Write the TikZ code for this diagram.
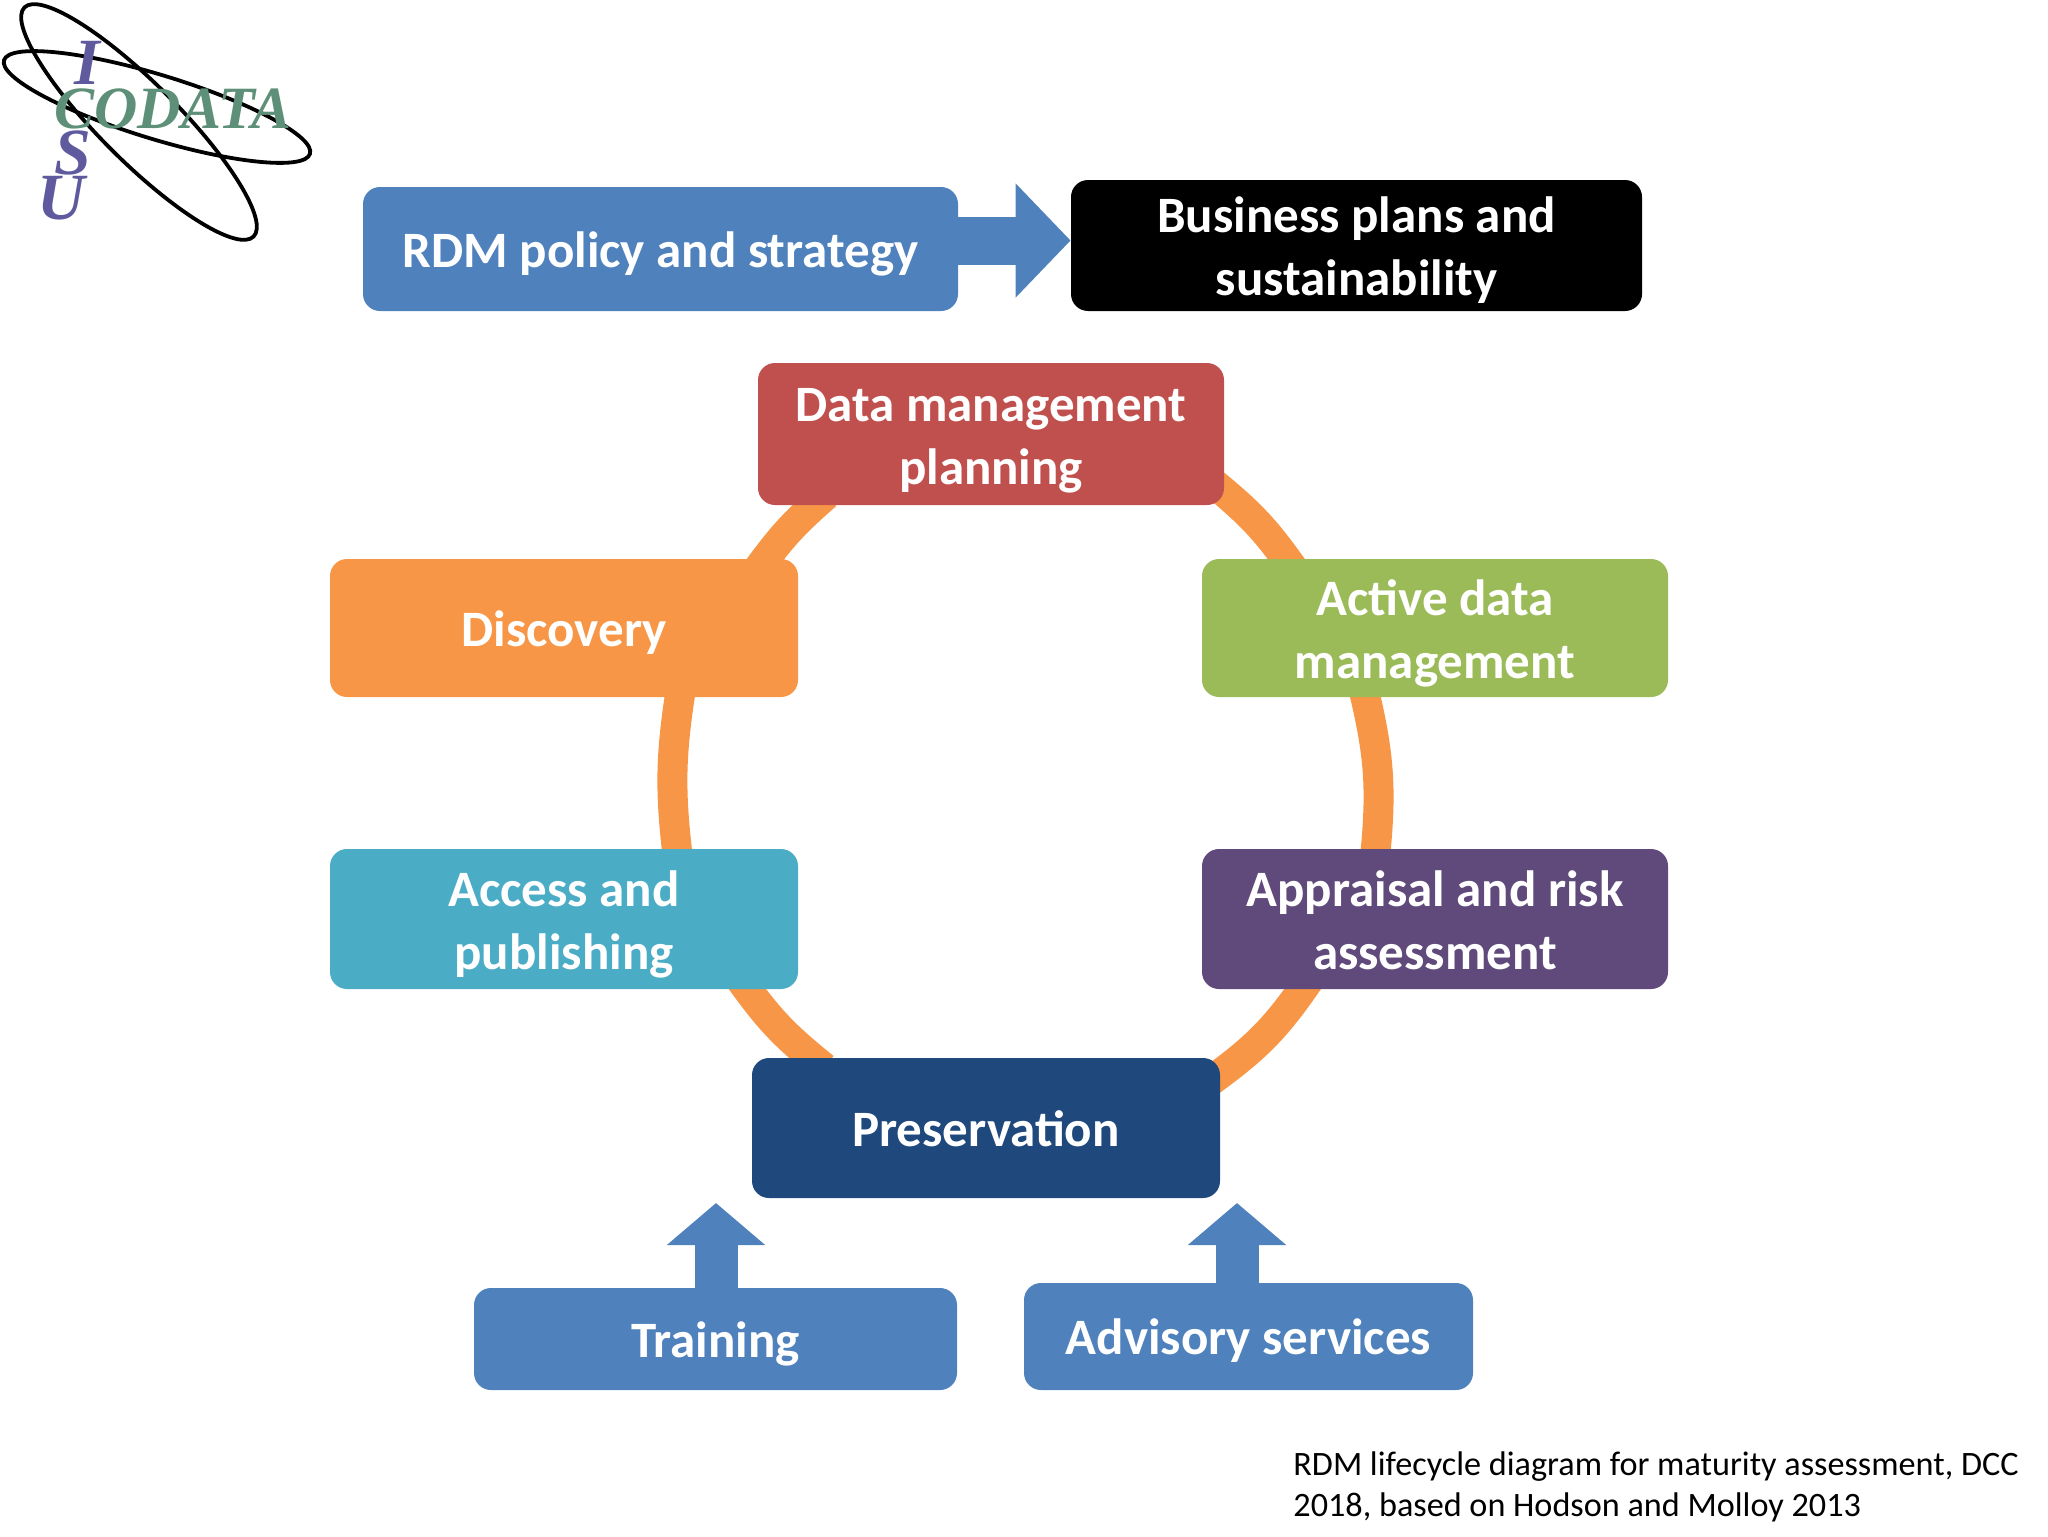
\documentclass[tikz,border=0pt]{standalone}
\usepackage{fontspec}
\setmainfont{Carlito}
\newfontfamily\logofont{Liberation Serif}
\usetikzlibrary{arrows.meta,backgrounds}
\definecolor{rdmblue}{HTML}{4F81BD}
\definecolor{planred}{HTML}{C0504D}
\definecolor{cycleorange}{HTML}{F79646}
\definecolor{activegreen}{HTML}{9BBB59}
\definecolor{accessteal}{HTML}{4BACC6}
\definecolor{appraisalpurple}{HTML}{604A7B}
\definecolor{preservenavy}{HTML}{1F497D}
\definecolor{logogreen}{HTML}{5E8F78}
\definecolor{logopurple}{HTML}{5F5A9E}
\tikzset{
    stagebox/.style={rounded corners=8.5pt, inner sep=0pt, text=white, align=center,
        font=\fontsize{25.5}{31.5}\selectfont\bfseries,
        execute at begin node={\rule{0pt}{24pt}}, execute at end node={\rule[-6pt]{0pt}{6pt}}},
    twolines/.style={execute at begin node={\rule{0pt}{56pt}}},
    cycleline/.style={draw=cycleorange, line width=15pt, shorten <=-8pt, shorten >=-8pt},
    blockarrow/.style={draw=rdmblue, line width=21.5pt, -{Triangle[length=21pt, width=48pt]}},
    logoring/.style={draw=black, line width=1.9pt},
    isuletter/.style={text=logopurple, inner sep=0pt, font=\logofont\fontsize{33}{33}\selectfont\bfseries\itshape}
}

\begin{document}
\begin{tikzpicture}[x=0.5pt, y=0.5pt]
    \useasboundingbox (0,0) rectangle (2048,-1536);

    \node[stagebox, fill=rdmblue, minimum width=297.5pt, minimum height=62pt] (rdm) at (660.5,-249) {RDM policy and strategy};
    \node[stagebox, twolines, fill=black, minimum width=285.5pt, minimum height=65.5pt] (business) at (1356.5,-245.5) {Business plans and\\sustainability};
    \node[stagebox, twolines, fill=planred, minimum width=233pt, minimum height=71pt] (plan) at (991,-434) {Data management\\planning};
    \node[stagebox, fill=cycleorange, minimum width=234pt, minimum height=69pt] (discovery) at (564,-628) {Discovery};
    \node[stagebox, twolines, fill=activegreen, minimum width=233pt, minimum height=69pt] (active) at (1435,-628) {Active data\\management};
    \node[stagebox, twolines, fill=accessteal, minimum width=234pt, minimum height=70pt] (access) at (564,-919) {Access and\\publishing};
    \node[stagebox, twolines, fill=appraisalpurple, minimum width=233pt, minimum height=70pt] (appraisal) at (1435,-919) {Appraisal and risk\\assessment};
    \node[stagebox, fill=preservenavy, minimum width=234pt, minimum height=70pt] (preservation) at (986,-1128) {Preservation};
    \node[stagebox, fill=rdmblue, minimum width=241.5pt, minimum height=51pt] (training) at (715.5,-1339) {Training};
    \node[stagebox, fill=rdmblue, minimum width=224.5pt, minimum height=53.5pt] (advisory) at (1248.5,-1336.5) {Advisory services};

    \coordinate (trainingtip) at (716,-1203);
    \coordinate (advisorytip) at (1237,-1203);

    \begin{pgfonlayer}{background}
        \foreach \src/\dst/\bendang in {plan.-14.7/active.155/7.7, active.225.8/appraisal.130.6/10, appraisal.208.7/preservation.13.1/10,
                preservation.158.9/access.-21.8/7.8, access.32.7/discovery.-31/8, discovery.19.4/plan.202/6.3}
            \draw[cycleline] (\src) to[bend left=\bendang] (\dst);
    \end{pgfonlayer}

    \draw[blockarrow, -{Triangle[length=27.5pt, width=55.5pt]}, line width=24pt] (rdm.east |- business.179.5) -- (business.179.5);
    \draw[blockarrow] (training.north -| trainingtip) -- (trainingtip);
    \draw[blockarrow] (advisory.north -| advisorytip) -- (advisorytip);

    \draw[logoring, rotate around={-45:(139,-122)}] (139,-122) ellipse [x radius=162, y radius=39];
    \draw[logoring, rotate around={-17:(157,-107)}] (157,-107) ellipse [x radius=160, y radius=32];
    \node[isuletter] (logoi) at (87,-63) {I};
    \node[text=logogreen, inner sep=0pt, font=\logofont\fontsize{30}{30}\selectfont\bfseries\itshape] (logocodata) at (173,-109) {CODATA};
    \node[isuletter] (logos) at (73,-153) {S};
    \node[isuletter] (logou) at (61,-198) {U};

    \node[anchor=north west, inner sep=0pt, align=left, font=\fontsize{17.1}{20.5}\selectfont] (caption) at (1293,-1451)
        {RDM lifecycle diagram for maturity assessment, DCC\\2018, based on Hodson and Molloy 2013};
\end{tikzpicture}
\end{document}
